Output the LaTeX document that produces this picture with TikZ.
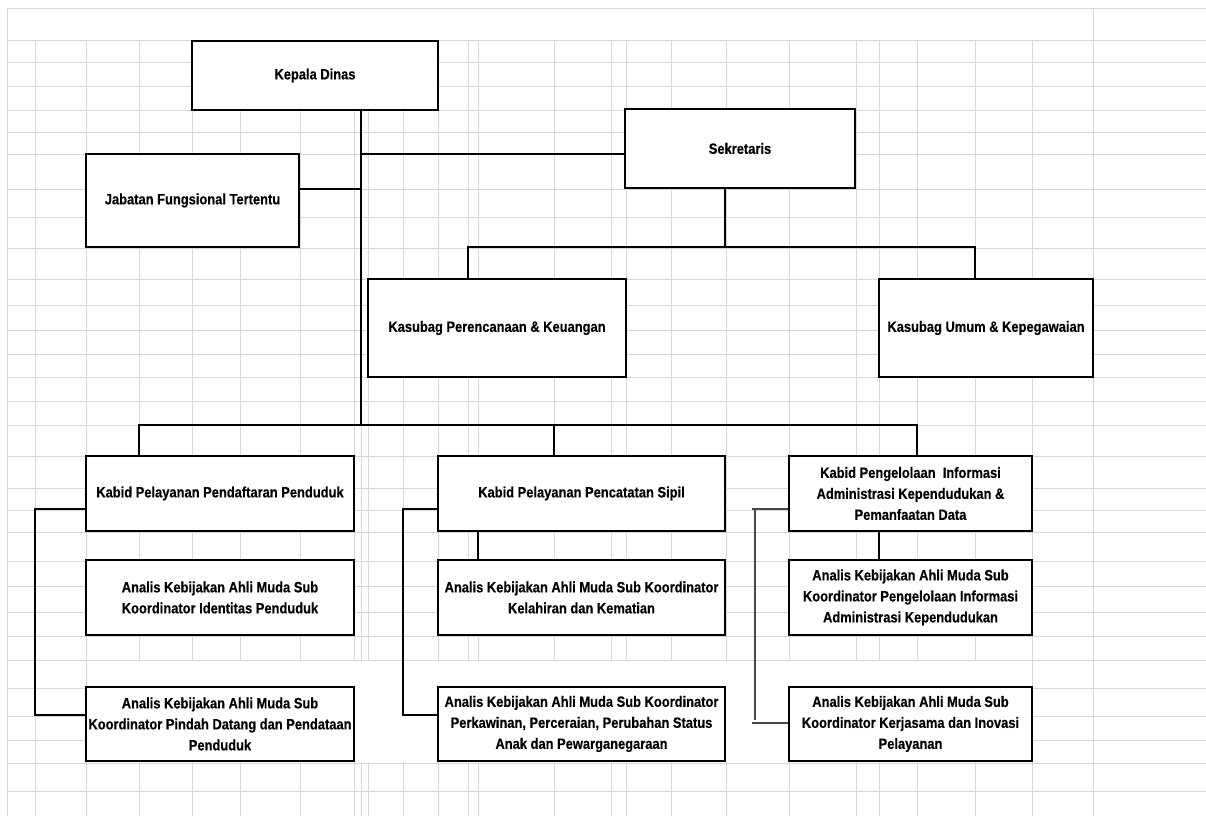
\documentclass[tikz,border=0pt]{standalone}
\usepackage{fontspec}
\setmainfont{Liberation Sans}[FakeStretch=0.86, BoldFeatures={FakeBold=0.35}]
\usetikzlibrary{calc}
\definecolor{gridc}{RGB}{216,216,216}
\definecolor{thinc}{RGB}{70,70,70}
\tikzset{
  box/.style={draw=black, line width=2.2pt, fill=white, align=center, inner sep=0pt,
    font=\bfseries\fontsize{15}{21}\selectfont},
  conn/.style={draw=black, line width=2.2pt},
  thinconn/.style={draw=thinc, line width=1.3pt},
  gridline/.style={draw=gridc, line width=1pt}
}
\begin{document}
\begin{tikzpicture}[x=1pt,y=-1pt]
\useasboundingbox (0,0) rectangle (1206,816);
\fill[white] (0,0) rectangle (1206,816);
% spreadsheet grid
\foreach \r in {41,62,86,110,132,154,189,217,248,279,305,330,354,377,401,425,456,488,510,532,561,586,612,636,660,688,716,740,763,791}
  \draw[gridline] (7,\r) -- (1206,\r);
\foreach \c in {35,86,139,192,240,300,354,361,368,403,438,468,478,554,611,626,671,726,789,856,879,917,975,1032}
  \draw[gridline] (\c,41) -- (\c,816);
\draw[gridline] (7,9) -- (1206,9);
\draw[gridline] (7,9) -- (7,816);
\draw[gridline] (1093,9) -- (1093,816);
\fill[white] (87,661) rectangle (1031.5,762);

% boxes
\node[box, minimum width=246, minimum height=69] (kd) at (315,75.5) {Kepala Dinas};
\node[box, minimum width=213, minimum height=93] (jft) at (192.5,200.5) {Jabatan Fungsional Tertentu};
\node[box, minimum width=230, minimum height=79] (sek) at (740,148.5) {Sekretaris};
\node[box, minimum width=258, minimum height=98] (kpk) at (497,328) {Kasubag Perencanaan \& Keuangan};
\node[box, minimum width=214, minimum height=98] (kuk) at (986,328) {Kasubag Umum \& Kepegawaian};

\node[box, minimum width=268, minimum height=75] (k1) at (220,493.5) {Kabid Pelayanan Pendaftaran Penduduk};
\node[box, minimum width=268, minimum height=75] (a11) at (220,597.5) {Analis Kebijakan Ahli Muda Sub\\Koordinator Identitas Penduduk};
\node[box, minimum width=268, minimum height=74] (a12) at (220,724) {Analis Kebijakan Ahli Muda Sub\\Koordinator Pindah Datang dan Pendataan\\Penduduk};

\node[box, minimum width=287, minimum height=75] (k2) at (581.5,493.5) {Kabid Pelayanan Pencatatan Sipil};
\node[box, minimum width=287, minimum height=75] (a21) at (581.5,597.5) {Analis Kebijakan Ahli Muda Sub Koordinator\\Kelahiran dan Kematian};
\node[box, minimum width=287, minimum height=74] (a22) at (581.5,724) {Analis Kebijakan Ahli Muda Sub Koordinator\\Perkawinan, Perceraian, Perubahan Status\\Anak dan Pewarganegaraan};

\node[box, minimum width=243, minimum height=75] (k3) at (910.5,493.5) {Kabid Pengelolaan\ \ Informasi\\Administrasi Kependudukan \&\\Pemanfaatan Data};
\node[box, minimum width=243, minimum height=75] (a31) at (910.5,597.5) {Analis Kebijakan Ahli Muda Sub\\Koordinator Pengelolaan Informasi\\Administrasi Kependudukan};
\node[box, minimum width=243, minimum height=74] (a32) at (910.5,724) {Analis Kebijakan Ahli Muda Sub\\Koordinator Kerjasama dan Inovasi\\Pelayanan};

% junction coordinates
\coordinate (trunk) at (361,425);
\coordinate (ja) at (361,154);
\coordinate (jb) at (361,189);
\coordinate (sb) at (725,247);
\coordinate (b1l) at (468,247);
\coordinate (b1r) at (975,247);
\coordinate (b2l) at (139,425);
\coordinate (b2m) at (554,425);
\coordinate (b2r) at (917,425);
\coordinate (lb1) at (35,509);
\coordinate (lb2) at (35,715);
\coordinate (mb1) at (403,509);
\coordinate (mb2) at (403,715);
\coordinate (md) at (478,545);
\coordinate (rd) at (879,545);
\coordinate (rb1) at (752,509);
\coordinate (rb2) at (752,723);
\coordinate (rv1) at (755,509);
\coordinate (rv2) at (755,720);

% connectors
\draw[conn] (kd.south -| trunk) -- (trunk);
\draw[conn] (ja) -- (ja -| sek.west);
\draw[conn] (jb -| jft.east) -- (jb);
\draw[conn] (sek.south -| sb) -- (sb);
\draw[conn] (kpk.north -| b1l) -- (b1l) -- (b1r) -- (b1r |- kuk.north);
\draw[conn] (k1.north -| b2l) -- (b2l) -- (b2r) -- (b2r |- k3.north);
\draw[conn] (b2m) -- (b2m |- k2.north);
\draw[conn] (lb1 -| k1.west) -- (lb1) -- (lb2) -- (lb2 -| a12.west);
\draw[conn] (mb1 -| k2.west) -- (mb1) -- (mb2) -- (mb2 -| a22.west);
\draw[conn] (k2.south -| md) -- (a21.north -| md);
\draw[conn] (k3.south -| rd) -- (a31.north -| rd);
\draw[thinconn] (rb1) -- (rb1 -| k3.west);
\draw[thinconn] (rv1) -- (rv2);
\draw[thinconn] (rb2) -- (rb2 -| a32.west);
\end{tikzpicture}
\end{document}
